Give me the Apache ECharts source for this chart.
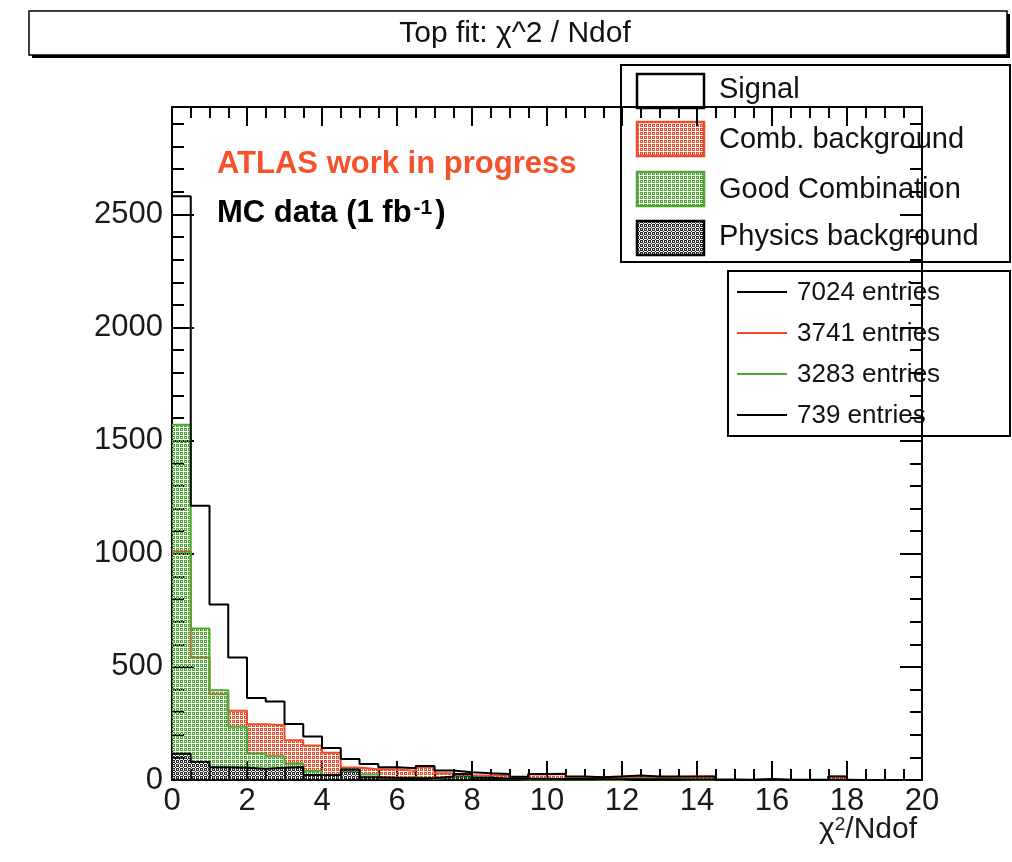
<!DOCTYPE html>
<html>
<head>
<meta charset="utf-8">
<script src="https://cdn.jsdelivr.net/npm/echarts@6/dist/echarts.min.js"></script>
<style>
  html, body { margin: 0; padding: 0; background: #ffffff; }
  #chart { width: 1012px; height: 862px; }
</style>
</head>
<body>
<div id="chart"></div>
<script>
// Top-quark fit quality: chi^2 / Ndof, 40 bins of width 0.5 between 0 and 20
const xMin = 0;
const xMax = 20;
const binWidth = 0.5;
const yMax = 2975;

const seriesNames = ['Signal', 'Comb. background', 'Good Combination', 'Physics background'];
const entryLabels = ['7024 entries', '3741 entries', '3283 entries', '739 entries'];

const signal = [2580, 1212, 776, 541, 363, 347, 248, 192, 142, 93,
                71, 56, 52, 62, 42, 34, 30, 27, 14, 27,
                28, 15, 12, 15, 20, 15, 15, 15, 15, 0,
                0, 4, 0, 0, 0, 15, 0, 0, 0, 0];
const combBackground = [1010, 542, 379, 306, 246, 242, 176, 152, 120, 55,
                        47, 48, 40, 58, 30, 20, 20, 22, 12, 24,
                        26, 12, 12, 15, 12, 12, 12, 15, 15, 0,
                        0, 0, 0, 0, 0, 15, 0, 0, 0, 0];
const goodCombination = [1570, 670, 397, 235, 117, 105, 72, 40, 22, 38,
                         24, 8, 12, 4, 12, 14, 10, 5, 2, 3,
                         2, 3, 0, 0, 8, 3, 3, 0, 0, 0,
                         0, 4, 0, 0, 0, 0, 0, 0, 0, 0];
const physicsBackground = [116, 80, 56, 54, 50, 54, 58, 22, 22, 46,
                           12, 10, 8, 8, 15, 27, 10, 6, 5, 5,
                           4, 4, 3, 3, 3, 3, 2, 2, 2, 2,
                           1, 1, 1, 1, 1, 1, 0, 0, 0, 0];

const RED = '#ef4a2a';
const GREEN = '#4ca832';
const BLACK = '#000000';
const FONT = 'Liberation Sans, Arial, Helvetica, sans-serif';

// histogram outline points: one point per bin left edge plus the closing edge
function stepData(values) {
  const pts = values.map((v, i) => [xMin + i * binWidth, v]);
  pts.push([xMax, values[values.length - 1]]);
  return pts;
}

// small repeating fill tiles in the style of ROOT fill patterns
function makePattern(size, color, cells) {
  const c = document.createElement('canvas');
  c.width = size; c.height = size;
  const ctx = c.getContext('2d');
  ctx.fillStyle = color;
  cells.forEach(([x, y]) => ctx.fillRect(x, y, 1, 1));
  return { image: c, repeat: 'repeat' };
}
// little rings of colour on a 4 px grid
const ringCells = [[0,0],[1,0],[2,0],[0,1],[2,1],[0,2],[1,2],[2,2]];
// dark cross-hatch
const hatchCells = [[0,0],[1,0],[2,0],[0,1],[2,1],[0,2],[1,2],[2,2],[3,3]];
const redFill = makePattern(4, RED, ringCells);
const greenFill = makePattern(4, GREEN, ringCells);
const darkFill = makePattern(4, '#2a2a2a', hatchCells);

const chart = echarts.init(document.getElementById('chart'), null, { renderer: 'canvas' });

const frameLine = { show: true, onZero: false, lineStyle: { color: BLACK, width: 2 } };
const tickStyle = { color: BLACK, width: 2 };

function xAxisDef(position, withLabels) {
  return {
    type: 'value', min: xMin, max: xMax, interval: 2, position: position,
    axisLine: frameLine,
    axisTick: { show: true, inside: true, length: 19, lineStyle: tickStyle },
    minorTick: { show: true, splitNumber: 4, length: 11, lineStyle: tickStyle },
    splitLine: { show: false },
    axisLabel: withLabels
      ? { show: true, fontSize: 31, fontFamily: FONT, color: '#1a1a1a', margin: 6 }
      : { show: false }
  };
}
function yMajorDef(position, withLabels) {
  return {
    type: 'value', min: 0, max: yMax, interval: 500, position: position,
    axisLine: frameLine,
    axisTick: { show: true, inside: true, length: 22, lineStyle: tickStyle },
    splitLine: { show: false },
    axisLabel: withLabels
      ? { show: true, fontSize: 31, fontFamily: FONT, color: '#1a1a1a', margin: 9,
          showMaxLabel: false, formatter: v => (v % 500 === 0 ? String(v) : '') }
      : { show: false }
  };
}
function yMinorDef(position) {
  return {
    type: 'value', min: 0, max: yMax, interval: 100, position: position,
    axisLine: frameLine,
    axisTick: { show: true, inside: true, length: 12, lineStyle: tickStyle },
    splitLine: { show: false },
    axisLabel: { show: false }
  };
}

function histSeries(name, values, lineColor, fill, z) {
  const s = {
    name: name, type: 'line', step: 'end', data: stepData(values),
    xAxisIndex: 0, yAxisIndex: 0,
    showSymbol: false, symbol: 'none', silent: true, z: z,
    lineStyle: { color: lineColor, width: 2 },
    itemStyle: { color: lineColor }
  };
  if (fill) s.areaStyle = { color: fill, opacity: 1 };
  return s;
}

// legend panels drawn as plain graphic elements
const legendSwatches = [
  { fill: '#ffffff', stroke: BLACK },
  { fill: redFill, stroke: RED },
  { fill: greenFill, stroke: GREEN },
  { fill: darkFill, stroke: BLACK }
];
const entryColors = [BLACK, RED, GREEN, BLACK];
const legendRowY = [74, 122, 172, 221];
const legendTextY = [90, 140, 190, 237];
const entryRowY = [292, 333, 374, 415];

const graphics = [
  // title pave with shadow
  { type: 'rect', shape: { x: 32, y: 14, width: 978, height: 44 }, style: { fill: BLACK } },
  { type: 'rect', shape: { x: 29, y: 11, width: 978, height: 44 },
    style: { fill: '#ffffff', stroke: BLACK, lineWidth: 1.5 } },
  { type: 'text', x: 515, y: 34,
    style: { text: 'Top fit: \u03c7^2 / Ndof', font: '30px ' + FONT, fill: '#111', align: 'center', verticalAlign: 'middle' } },

  { type: 'text', x: 217, y: 164,
    style: { text: 'ATLAS work in progress', font: 'bold 31px ' + FONT, fill: '#f5512a', verticalAlign: 'middle' } },
  { type: 'text', x: 217, y: 213,
    style: { text: '{b|MC data (1 fb}{s|-1}{b|)}', verticalAlign: 'middle',
      rich: { b: { font: 'bold 31px ' + FONT, fill: BLACK },
              s: { font: 'bold 21px ' + FONT, fill: BLACK, verticalAlign: 'top', padding: [0, 3, 0, 2] } } } },

  // legend: sample types
  { type: 'rect', shape: { x: 621, y: 65, width: 389, height: 197 },
    style: { fill: '#ffffff', stroke: BLACK, lineWidth: 2 } },
  // legend: entry counts
  { type: 'rect', shape: { x: 728, y: 271, width: 282, height: 165 },
    style: { fill: '#ffffff', stroke: BLACK, lineWidth: 2 } },

  { type: 'text', x: 917, y: 830,
    style: { text: '{a|\u03c7}{s|2}{a|/Ndof}', align: 'right', verticalAlign: 'middle',
      rich: { a: { font: '30px ' + FONT, fill: '#1a1a1a' },
              s: { font: '19px ' + FONT, fill: '#1a1a1a', verticalAlign: 'top' } } } }
];
seriesNames.forEach((name, i) => {
  graphics.push({ type: 'rect', shape: { x: 637, y: legendRowY[i], width: 67, height: 34 },
    style: { fill: legendSwatches[i].fill, stroke: legendSwatches[i].stroke, lineWidth: 2.5 } });
  graphics.push({ type: 'text', x: 719, y: legendTextY[i],
    style: { text: name, font: '29px ' + FONT, fill: '#111', verticalAlign: 'middle' } });
});
entryLabels.forEach((label, i) => {
  graphics.push({ type: 'line', shape: { x1: 737, y1: entryRowY[i], x2: 787, y2: entryRowY[i] },
    style: { stroke: entryColors[i], lineWidth: 2 } });
  graphics.push({ type: 'text', x: 797, y: entryRowY[i] + 1,
    style: { text: label, font: '26px ' + FONT, fill: '#111', verticalAlign: 'middle' } });
});

chart.setOption({
  animation: false,
  backgroundColor: '#ffffff',
  grid: { left: 172, right: 90, top: 107, bottom: 82, containLabel: false },
  xAxis: [xAxisDef('bottom', true), xAxisDef('top', false)],
  yAxis: [yMajorDef('left', true), yMinorDef('left'), yMajorDef('right', false), yMinorDef('right')],
  series: [
    histSeries(seriesNames[1], combBackground, RED, redFill, 2),
    histSeries(seriesNames[2], goodCombination, GREEN, greenFill, 3),
    histSeries(seriesNames[3], physicsBackground, BLACK, darkFill, 4),
    histSeries(seriesNames[0], signal, BLACK, null, 5)
  ],
  graphic: { elements: [{ type: 'group', z: 100, children: graphics }] }
});
</script>
</body>
</html>
